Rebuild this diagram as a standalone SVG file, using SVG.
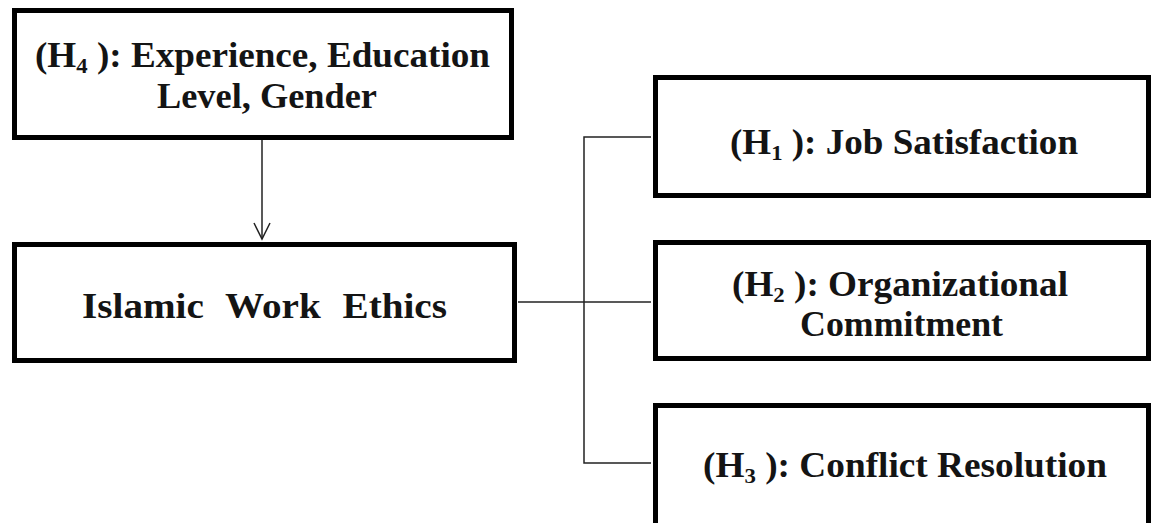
<svg xmlns="http://www.w3.org/2000/svg" width="1155" height="523" viewBox="0 0 1155 523">
<style>
.box{fill:#fff;stroke:#000;stroke-width:5}
.t{font-family:"Liberation Serif","Times New Roman",serif;font-weight:bold;font-size:36px;fill:#141414;text-anchor:middle}
.sub{font-size:22px}
.c{fill:none;stroke:#222;stroke-width:1.5}
</style>
<defs>
<marker id="arr" viewBox="0 0 20 20" refX="18" refY="10" markerWidth="20" markerHeight="20" markerUnits="userSpaceOnUse" orient="auto">
<path d="M2,2 L18,10 L2,18" fill="none" stroke="#222" stroke-width="1.5"/>
</marker>
</defs>
<rect width="1155" height="523" fill="#fff"/>
<g id="connectors">
<line class="c" x1="262" y1="140" x2="262" y2="239" marker-end="url(#arr)"/>
<line class="c" x1="518" y1="302" x2="651" y2="302"/>
<polyline class="c" points="651,137 584,137 584,463 651,463"/>
</g>
<g id="h4">
<rect class="box" x="14.5" y="10.5" width="497" height="127"/>
<text class="t" x="262.5" y="67" textLength="455" lengthAdjust="spacingAndGlyphs">(H<tspan class="sub" dy="6">4</tspan><tspan dy="-6"> ): Experience, Education</tspan></text>
<text class="t" x="267" y="108" textLength="220" lengthAdjust="spacingAndGlyphs">Level, Gender</text>
</g>
<g id="iwe">
<rect class="box" x="14.5" y="244.5" width="500" height="116"/>
<text class="t" x="264.5" y="318" font-size="41" word-spacing="11" textLength="365" lengthAdjust="spacingAndGlyphs">Islamic Work Ethics</text>
</g>
<g id="h1">
<rect class="box" x="655.5" y="77.5" width="493" height="118"/>
<text class="t" x="904" y="154" textLength="348" lengthAdjust="spacingAndGlyphs">(H<tspan class="sub" dy="6">1</tspan><tspan dy="-6"> ): Job Satisfaction</tspan></text>
</g>
<g id="h2">
<rect class="box" x="655.5" y="242.5" width="493" height="116"/>
<text class="t" x="900" y="296" textLength="336" lengthAdjust="spacingAndGlyphs">(H<tspan class="sub" dy="6">2</tspan><tspan dy="-6"> ): Organizational</tspan></text>
<text class="t" x="901.5" y="336" textLength="203" lengthAdjust="spacingAndGlyphs">Commitment</text>
</g>
<g id="h3">
<rect class="box" x="655.5" y="405.5" width="493" height="125"/>
<text class="t" x="905" y="477" textLength="404" lengthAdjust="spacingAndGlyphs">(H<tspan class="sub" dy="6">3</tspan><tspan dy="-6"> ): Conflict Resolution</tspan></text>
</g>
</svg>
